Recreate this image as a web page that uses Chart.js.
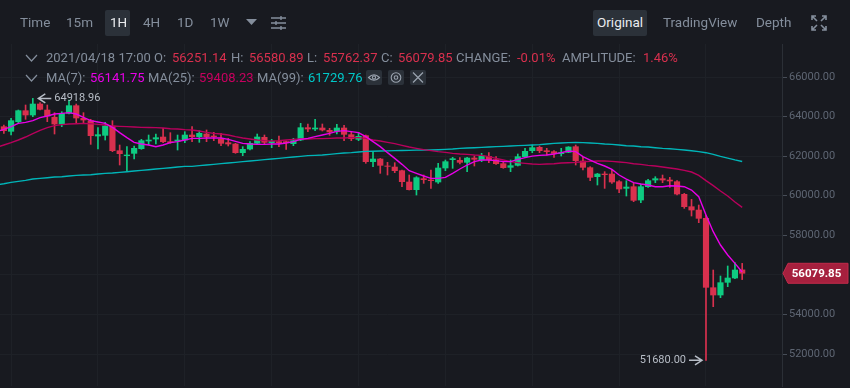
<!DOCTYPE html>
<html>
<head>
<meta charset="utf-8">
<script src="https://cdn.jsdelivr.net/npm/chart.js@4"></script>
<style>
html, body { margin: 0; padding: 0; background: #181a20; overflow: hidden; }
#wrap { position: relative; width: 850px; height: 388px; overflow: hidden; font-family: Roboto, sans-serif; color: #848e9c; }
#showChart { position: absolute; left: -7px; top: 0; }
.t { position: absolute; white-space: nowrap; line-height: 16px; }
.tool { font-size: 13.5px; top: 14px; }
.head { font-size: 13px; }
.red { color: #d9304e; }
.on { color: #eaecef; }
.box { position: absolute; background: #2b3139; border-radius: 2px; }
svg { position: absolute; }
</style>
</head>
<body>
<div id="wrap">
  <canvas id="showChart" width="857" height="388"></canvas>

  <div class="box" style="left:105px;top:10px;width:25px;height:26px"></div>
  <div class="box" style="left:593px;top:10px;width:54px;height:26px"></div>
  <span class="t tool" style="left:20px">Time</span>
  <span class="t tool" style="left:66px">15m</span>
  <span class="t tool on" style="left:110px">1H</span>
  <span class="t tool" style="left:143px">4H</span>
  <span class="t tool" style="left:177px">1D</span>
  <span class="t tool" style="left:210px">1W</span>
  <svg style="left:246px;top:19px" width="11" height="7"><path d="M0 0H11L5.5 6Z" fill="#848e9c"/></svg>
  <svg style="left:271px;top:15px" width="16" height="15" fill="none" stroke="#848e9c" stroke-width="1.4"><path d="M0 3H15M0 8H15M0 13H15M10 1V5M5 6V10M10 11V15"/></svg>
  <span class="t tool on" style="left:597px">Original</span>
  <span class="t tool" style="left:663px">TradingView</span>
  <span class="t tool" style="left:756px">Depth</span>
  <svg style="left:811px;top:15px" width="16" height="16" fill="none" stroke="#848e9c" stroke-width="1.6"><path d="M1 5V1H5M11 1H15V5M1 11V15H5M11 15H15V11M1 1L6 6M15 1L10 6M1 15L6 10M15 15L10 10"/></svg>

  <svg style="left:25px;top:54px" width="13" height="8" fill="none" stroke="#848e9c" stroke-width="1.2"><path d="M1 1L6.5 7L12 1"/></svg>
  <span class="t head" style="left:46px;top:50px">2021/04/18 17:00</span>
  <span class="t head" style="left:154px;top:50px">O:</span>
  <span class="t head red" style="left:172px;top:50px">56251.14</span>
  <span class="t head" style="left:231px;top:50px">H:</span>
  <span class="t head red" style="left:249px;top:50px">56580.89</span>
  <span class="t head" style="left:307px;top:50px">L:</span>
  <span class="t head red" style="left:323px;top:50px">55762.37</span>
  <span class="t head" style="left:381px;top:50px">C:</span>
  <span class="t head red" style="left:398px;top:50px">56079.85</span>
  <span class="t head" style="left:456px;top:50px">CHANGE:</span>
  <span class="t head red" style="left:517px;top:50px">-0.01%</span>
  <span class="t head" style="left:562px;top:50px">AMPLITUDE:</span>
  <span class="t head red" style="left:643px;top:50px">1.46%</span>

  <svg style="left:25px;top:74px" width="13" height="8" fill="none" stroke="#848e9c" stroke-width="1.2"><path d="M1 1L6.5 7L12 1"/></svg>
  <span class="t head" style="left:46px;top:70px">MA(7):</span>
  <span class="t head" style="left:90px;top:70px;color:#e800e8">56141.75</span>
  <span class="t head" style="left:148px;top:70px">MA(25):</span>
  <span class="t head" style="left:199px;top:70px;color:#c8005f">59408.23</span>
  <span class="t head" style="left:257px;top:70px">MA(99):</span>
  <span class="t head" style="left:308px;top:70px;color:#00c8c8">61729.76</span>
  <div class="box" style="left:366px;top:70px;width:16px;height:15px"></div>
  <div class="box" style="left:388px;top:70px;width:16px;height:15px"></div>
  <div class="box" style="left:410px;top:70px;width:16px;height:15px"></div>
  <svg style="left:366px;top:70px" width="16" height="15" fill="none" stroke="#9aa3af" stroke-width="1.1"><path d="M2.5 7.5Q8 2 13.5 7.5Q8 13 2.5 7.5Z"/><circle cx="8" cy="7.5" r="1.6"/></svg>
  <svg style="left:388px;top:70px" width="16" height="15" fill="none" stroke="#9aa3af" stroke-width="1.1"><circle cx="8" cy="7.5" r="4.8"/><circle cx="8" cy="7.5" r="1.8"/></svg>
  <svg style="left:410px;top:70px" width="16" height="15" fill="none" stroke="#9aa3af" stroke-width="1.2"><path d="M3 2.5L13 12.5M13 2.5L3 12.5"/></svg>
</div>

<script>
// hourly candles, the last one opens 2021/04/18 17:00
// first entry sits just off the left edge so the MA lines reach the border
var opens = [
    63300,
    63489,63254,63742,64298,64079,64635,64332,63961,63624,64163,
    64551,63911,63793,63018,63051,63523,62276,62024,62141,62377,
    62765,62866,62967,62731,62765,62815,63069,62985,63119,63018,
    62867,62681,62614,62176,62361,62648,62951,62681,62732,62732,
    62631,62816,63439,63372,63423,63305,63254,63423,63086,62850,
    63035,61721,61856,61502,61451,61266,60693,60305,60861,60794,
    60693,61401,61822,61788,61687,61906,61805,61990,61822,61620,
    61434,61535,61974,62277,62445,62276,62226,62125,62192,62479,
    61754,61417,60962,61097,61097,60709,60372,60456,59782,60456,
    60793,60861,60793,60709,60069,59445,59277,58857,55352,54982,
    55622,55841,56251.14
];
var highs = [
    63550,
    63574,63911,64332,64585,64918.96,64703,64585,64197,64248,64837,
    64635,64197,63860,63439,63709,63793,62563,62478,62512,62849,
    63068,63119,63405,63186,63068,63237,63490,63288,63322,63204,
    63153,62900,62648,62479,62732,63119,63069,62850,63018,62765,
    62900,63658,63625,63861,63625,63406,63608,63557,63204,63204,
    63069,62226,61889,61687,61670,61300,61047,60963,61047,61300,
    61637,61805,61940,61923,61940,62007,62142,62176,61974,61721,
    61805,62108,62395,62563,62513,62394,62276,62394,62479,62563,
    61939,61468,61130,61215,61333,60760,60760,60625,60591,60827,
    60962,61046,60928,60760,60119,59816,59530,59026,56245,55942,
    56448,56616,56580.89
];
var lows = [
    63200,
    63153,63068,63658,63860,63995,64332,63742,63119,63490,64130,
    63692,63658,62596,62361,62815,62226,61552,61265,61855,62344,
    62563,62613,62681,62647,62310,62681,62732,62698,62732,62782,
    62530,62513,62142,62024,62310,62614,62597,62428,62479,62344,
    62530,62782,63237,63288,63271,63052,63119,62782,62782,62782,
    61637,61468,61131,61047,61165,60457,60289,60036,60625,60373,
    60625,61266,61384,61603,61215,61502,61721,61670,61586,61384,
    61215,61502,61940,62176,62176,62057,61939,62007,62175,61552,
    61299,60760,60541,60372,60625,60153,59985,59698,59648,60423,
    60659,60659,60423,60035,59361,58974,58637,51680,54392,54847,
    55403,55807,55762.37
];
var closes = [
    63489,
    63287,63793,64298,64079,64635,64366,64029,63624,64163,64551,
    63928,63826,63035,63085,63523,62276,62125,62057,62394,62782,
    62815,62933,62731,62681,62815,63068,62985,63153,62985,62985,
    62648,62614,62176,62344,62648,62968,62698,62749,62681,62681,
    62782,63439,63372,63423,63321,63220,63423,63102,62883,63002,
    61721,61856,61535,61485,61266,60710,60305,60912,60811,60760,
    61401,61721,61872,61687,61906,61839,62007,61822,61620,61418,
    61519,61974,62243,62428,62277,62226,62141,62175,62462,61771,
    61434,60928,61097,61063,60692,60339,60440,59766,60456,60760,
    60861,60793,60743,60086,59445,59277,58856,55369,54982,55605,
    55841,56245,56079.85
];
var ma7 = [
    63240,
    63355,63489,63658,63709,63793,63944,64029,64130,64163,64197,
    64130,63961,63793,63725,63658,63456,63186,62933,62698,62613,
    62563,62478,62563,62681,62731,62815,62900,62900,62917,62917,
    62917,62850,62749,62648,62614,62597,62597,62614,62614,62664,
    62732,62850,62900,62985,63069,63153,63254,63288,63237,63187,
    62984,62732,62479,62176,61889,61586,61266,61131,60996,60878,
    60878,60929,61131,61350,61552,61721,61805,61805,61771,61721,
    61721,61839,61923,62000,62040,62057,62108,62175,62259,62226,
    61973,61804,61636,61501,61333,61046,60844,60659,60591,60541,
    60456,60456,60507,60490,60456,60288,59951,59026,58183,57509,
    57004,56582,56141.75
];
var ma25 = [
    62440,
    62563,62681,62815,62967,63136,63304,63439,63540,63591,63624,
    63641,63658,63641,63607,63574,63523,63506,63490,63473,63456,
    63447,63439,63422,63388,63372,63338,63322,63271,63204,63153,
    63119,63069,62984,62917,62867,62816,62782,62765,62782,62816,
    62850,62867,62867,62884,62884,62900,62917,62917,62934,62934,
    62900,62816,62765,62698,62631,62546,62462,62395,62327,62277,
    62226,62193,62142,62108,62091,62058,62041,61974,61889,61805,
    61721,61670,61637,61603,61586,61602,61619,61653,61670,61687,
    61720,61737,61754,61754,61737,61703,61670,61619,61585,61535,
    61501,61451,61400,61350,61282,61198,61030,60760,60510,60240,
    59985,59680,59408.23
];
var ma99 = [
    60550,
    60608,60675,60726,60776,60844,60878,60911,60945,60962,60996,
    61029,61046,61063,61097,61130,61147,61181,61215,61248,61282,
    61316,61349,61383,61417,61451,61484,61485,61519,61552,61586,
    61620,61653,61687,61721,61755,61788,61822,61855,61889,61923,
    61957,61990,62024,62041,62058,62091,62125,62159,62176,62209,
    62243,62251,62260,62268,62277,62285,62294,62302,62311,62311,
    62327,62344,62361,62395,62412,62428,62445,62462,62479,62496,
    62513,62530,62546,62563,62580,62613,62647,62664,62681,62698,
    62681,62664,62647,62613,62596,62563,62529,62512,62478,62462,
    62428,62394,62377,62344,62310,62276,62226,62175,62090,61990,
    61900,61810,61729.76
];
var yTicks = [52000, 54000, 56000, 58000, 60000, 62000, 64000, 66000];
var xGridIdx = [2, 14, 26, 38, 50, 62, 74, 86, 98];

// the last five slots stay empty, room to the right of the last candle
var times = [];
for (var i = 0; i < 109; i++) {
    times.push(new Date(Date.UTC(2021, 3, 18, 17 + i - 103)).toISOString().slice(0, 16).replace('T', ' '));
}

var GREEN = '#0ecb81';
var RED = '#d9304e';
var candleColor = opens.map(function (o, i) { return closes[i] >= o ? GREEN : RED; });

function arrowLabel(ctx, x, y, dir, text) {
    // dir = -1 arrow points left at the candle, text on its right
    ctx.save();
    ctx.strokeStyle = '#b7bdc6';
    ctx.fillStyle = '#b7bdc6';
    ctx.lineWidth = 1.5;
    ctx.beginPath();
    ctx.moveTo(x, y);
    ctx.lineTo(x - dir * 13, y);
    ctx.moveTo(x - dir * 7, y - 4.5);
    ctx.lineTo(x, y);
    ctx.lineTo(x - dir * 7, y + 4.5);
    ctx.stroke();
    ctx.font = '11px Roboto, sans-serif';
    ctx.textBaseline = 'middle';
    ctx.textAlign = dir < 0 ? 'left' : 'right';
    ctx.fillText(text, x - dir * 16, y);
    ctx.restore();
}

var marksPlugin = {
    id: 'marks',
    afterDatasetsDraw: function (chart) {
        var ctx = chart.ctx;
        var sx = chart.scales.x;
        var sy = chart.scales.y;
        var maxHigh = Math.max.apply(null, highs);
        var minLow = Math.min.apply(null, lows);
        arrowLabel(ctx, sx.getPixelForValue(highs.indexOf(maxHigh)) + 5.5, sy.getPixelForValue(maxHigh), -1, maxHigh.toFixed(2));
        arrowLabel(ctx, sx.getPixelForValue(lows.indexOf(minLow)) - 4, sy.getPixelForValue(minLow), 1, minLow.toFixed(2));

        // last price tag on the axis
        var last = closes[closes.length - 1];
        var y = sy.getPixelForValue(last);
        var ax = sx.right;
        ctx.save();
        ctx.fillStyle = '#a6203e';
        ctx.strokeStyle = '#c22b4b';
        ctx.beginPath();
        ctx.moveTo(ax + 1, y);
        ctx.lineTo(ax + 6, y - 10);
        ctx.lineTo(ax + 66, y - 10);
        ctx.lineTo(ax + 66, y + 10);
        ctx.lineTo(ax + 6, y + 10);
        ctx.closePath();
        ctx.fill();
        ctx.stroke();
        ctx.fillStyle = '#ffffff';
        ctx.font = 'bold 11.5px Roboto, sans-serif';
        ctx.textAlign = 'center';
        ctx.textBaseline = 'middle';
        ctx.fillText(last.toFixed(2), ax + 34.5, y + 0.5);
        ctx.restore();
    }
};

new Chart(document.querySelector('#showChart').getContext('2d'), {
    type: 'bar',
    plugins: [marksPlugin],
    data: {
        labels: times,
        datasets: [
            { type: 'line', label: 'MA(7)', data: ma7, borderColor: '#e800e8', borderWidth: 1.4, pointRadius: 0, order: 0 },
            { type: 'line', label: 'MA(25)', data: ma25, borderColor: '#b8005c', borderWidth: 1.4, pointRadius: 0, order: 0 },
            { type: 'line', label: 'MA(99)', data: ma99, borderColor: '#00b5b8', borderWidth: 1.4, pointRadius: 0, order: 0 },
            { label: 'Body', data: opens.map(function (o, i) { return [o, closes[i]]; }), backgroundColor: candleColor, barThickness: 5.5, grouped: false, order: 1 },
            { label: 'Wick', data: lows.map(function (l, i) { return [l, highs[i]]; }), backgroundColor: candleColor, barThickness: 1, grouped: false, order: 2 }
        ]
    },
    options: {
        responsive: false,
        animation: false,
        layout: { padding: { top: 44, bottom: 2, left: 0, right: 0 } },
        plugins: { legend: { display: false }, tooltip: { enabled: false } },
        scales: {
            x: {
                offset: true,
                border: { display: false },
                grid: { color: '#1e2127', offset: false, drawTicks: false },
                ticks: { display: false },
                afterBuildTicks: function (axis) {
                    axis.ticks = xGridIdx.map(function (v) { return { value: v }; });
                },
                afterFit: function (axis) { axis.height = 0; }
            },
            y: {
                position: 'right',
                min: 50383,
                max: 67668,
                border: { color: '#2b2f36' },
                grid: { color: '#1e2127', tickColor: '#474d57', tickLength: 5 },
                ticks: {
                    color: '#5e6673',
                    padding: 2,
                    font: { family: 'Roboto, sans-serif', size: 11 },
                    callback: function (v) { return v.toFixed(2); }
                },
                afterBuildTicks: function (axis) {
                    axis.ticks = yTicks.map(function (v) { return { value: v }; });
                },
                afterFit: function (axis) {
                    axis.width = 68;
                    // labels never touch the ends, no need to shrink the plot for them
                    axis.paddingTop = 0;
                    axis.paddingBottom = 0;
                }
            }
        }
    }
});
</script>
</body>
</html>
